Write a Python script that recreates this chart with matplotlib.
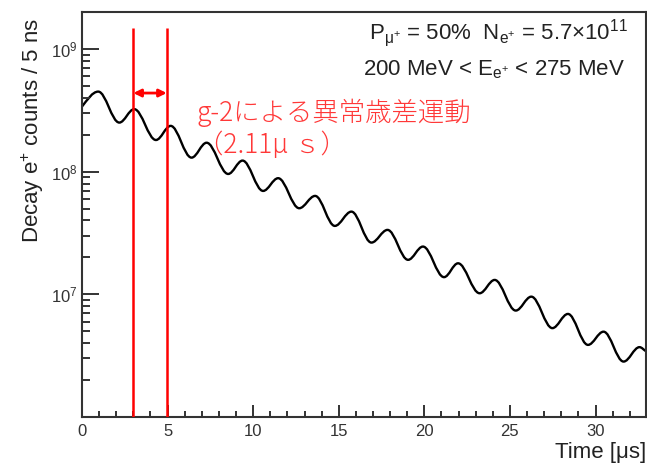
import matplotlib
matplotlib.use("Agg")
import matplotlib.pyplot as plt
from matplotlib.path import Path
from matplotlib.patches import PathPatch
from matplotlib.ticker import LogLocator, MultipleLocator, NullFormatter, FixedLocator

# ---- data ----
start_t, start_n = 0.0, 3.39e8
peak_t = [0.95, 3.05, 5.18, 7.28, 9.38, 11.46, 13.62, 15.74, 17.85, 19.92,
          21.97, 24.11, 26.25, 28.39, 30.47, 32.57]
peak_n = [4.49e8, 3.23e8, 2.36e8, 1.72e8, 1.23e8, 8.84e7, 6.34e7, 4.72e7,
          3.35e7, 2.45e7, 1.79e7, 1.31e7, 9.57e6, 6.92e6, 4.96e6, 3.71e6]
trough_t = [2.18, 4.32, 6.40, 8.54, 10.58, 12.69, 14.77, 16.91, 19.05, 21.15,
            23.23, 25.34, 27.48, 29.56, 31.64]
trough_n = [2.51e8, 1.81e8, 1.30e8, 9.57e7, 6.96e7, 5.03e7, 3.61e7, 2.64e7,
            1.91e7, 1.38e7, 1.02e7, 7.37e6, 5.30e6, 3.87e6, 2.83e6]
end_t, end_n = 32.93, 3.45e6

marker_t = [3.0, 4.95]          # red vertical lines
marker_top = 1.48e9
arrow_n = 4.37e8

x_ticks = [0, 5, 10, 15, 20, 25, 30]
y_ticks = [1e7, 1e8, 1e9]
xlim = (0, 32.95)
ylim = (1e6, 2e9)

plt.rcParams['font.family'] = ['Liberation Sans', 'DejaVu Sans']
plt.rcParams['mathtext.fontset'] = 'custom'
plt.rcParams['mathtext.rm'] = 'Liberation Sans'
plt.rcParams['mathtext.it'] = 'Liberation Sans:italic'
plt.rcParams['mathtext.bf'] = 'Liberation Sans:bold'

W, H = 647, 465
fig = plt.figure(figsize=(W / 100, H / 100), dpi=100)
ax = fig.add_axes([82 / W, 1 - 417 / H, (646 - 82) / W, (417 - 12) / H])
ax.set_yscale('log')
ax.set_xlim(*xlim)
ax.set_ylim(*ylim)

# ---- curve: smooth path through the read extrema ----
pts = [(start_t, start_n, False)]
for i in range(len(peak_t)):
    pts.append((peak_t[i], peak_n[i], True))
    if i < len(trough_t):
        pts.append((trough_t[i], trough_n[i], True))
pts.append((end_t, end_n, False))

k = 0.36
verts = [(pts[0][0], pts[0][1])]
codes = [Path.MOVETO]
for (t0, n0, e0), (t1, n1, e1) in zip(pts[:-1], pts[1:]):
    dt = t1 - t0
    if e0:
        c1 = (t0 + k * dt, n0)
    else:
        c1 = (t0 + dt / 3, n0 * (n1 / n0) ** 0.45)
    if e1:
        c2 = (t1 - k * dt, n1)
    else:
        c2 = (t1 - dt / 3, n1 * (n0 / n1) ** (1 / 3))
    verts += [c1, c2, (t1, n1)]
    codes += [Path.CURVE4, Path.CURVE4, Path.CURVE4]
ax.add_patch(PathPatch(Path(verts, codes), fill=False, edgecolor='black',
                       lw=1.7, transform=ax.transData, capstyle='round',
                       joinstyle='round'))

# ---- red markers ----
ax.vlines(marker_t, ylim[0], marker_top, colors='#ff0000', lw=1.8, zorder=3)
ax.annotate('', xy=(marker_t[1], arrow_n), xytext=(marker_t[0], arrow_n),
            arrowprops=dict(arrowstyle='<|-|>', color='#ff0000', lw=2.0,
                            mutation_scale=11, shrinkA=0, shrinkB=0))

# ---- axes styling (ROOT-like) ----
frame_c = '#333333'
for s in ax.spines.values():
    s.set_linewidth(1.5)
    s.set_color(frame_c)
ax.set_xticks(x_ticks)
ax.xaxis.set_minor_locator(MultipleLocator(1))
ax.yaxis.set_major_locator(FixedLocator(y_ticks))
ax.yaxis.set_minor_locator(LogLocator(base=10, subs=range(2, 10), numticks=20))
ax.yaxis.set_minor_formatter(NullFormatter())
ax.tick_params(axis='both', which='both', direction='in', colors=frame_c,
               labelcolor='#333333', labelsize=12, width=1.4)
ax.tick_params(axis='y', which='major', length=12, pad=3)
ax.tick_params(axis='y', which='minor', length=5.8)
ax.tick_params(axis='x', which='major', length=8.4, pad=5)
ax.tick_params(axis='x', which='minor', length=4.3)

# ---- labels ----
fig.text(33 / W, 1 - 130 / H, 'Decay e$^{+}$ counts / 5 ns', rotation=90,
         ha='center', va='center', fontsize=16, color='#222222')
fig.text(646 / W, 1 - 452 / H, 'Time [μs]', ha='right', va='center',
         fontsize=16, color='#222222')

fig.text(628 / W, 1 - 33 / H,
         r'P$_{\mathrm{μ}^{+}}$ = 50%  N$_{\mathrm{e}^{+}}$ = 5.7$\times$10$^{11}$',
         ha='right', va='center', fontsize=16, color='#222222')
fig.text(625 / W, 1 - 70 / H, r'200 MeV < E$_{\mathrm{e}^{+}}$ < 275 MeV',
         ha='right', va='center', fontsize=16, color='#222222')

jp = ['Noto Sans CJK JP', 'DejaVu Sans']
fig.text(197 / W, 1 - 113 / H, 'g-2による異常歳差運動', ha='left',
         va='center', fontsize=19, color='#ff3838', family=jp, weight='light')
fig.text(197 / W, 1 - 145 / H, '（2.11μ ｓ）', ha='left',
         va='center', fontsize=19, color='#ff3838', family=jp, weight='light')

fig.savefig('out.png', dpi=100)
